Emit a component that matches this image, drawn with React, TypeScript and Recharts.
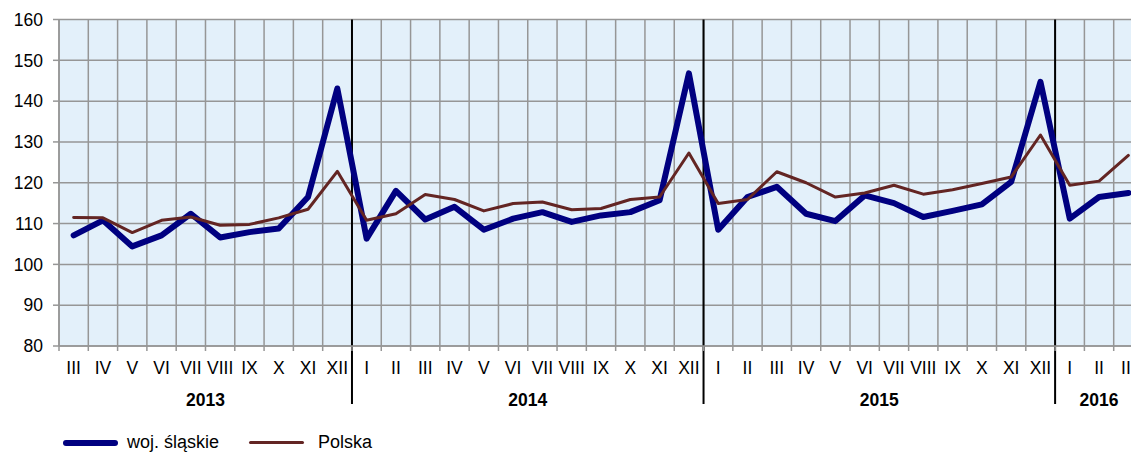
import React from "react";
import { LineChart, Line, XAxis, YAxis, CartesianGrid, ReferenceLine } from "recharts";

const MONTHS = [
  "III", "IV", "V", "VI", "VII", "VIII", "IX", "X", "XI", "XII",
  "I", "II", "III", "IV", "V", "VI", "VII", "VIII", "IX", "X", "XI", "XII",
  "I", "II", "III", "IV", "V", "VI", "VII", "VIII", "IX", "X", "XI", "XII",
  "I", "II", "III",
];

const SLASKIE = [
  107.1, 110.8, 104.4, 107.1, 112.4, 106.6, 107.9, 108.8, 116.5, 143.1,
  106.3, 118.0, 111.0, 114.1, 108.5, 111.2, 112.8, 110.4, 112.0, 112.8, 115.7, 146.8,
  108.5, 116.5, 119.0, 112.4, 110.6, 116.9, 115.0, 111.6, 113.1, 114.7, 120.2, 144.7,
  111.2, 116.5, 117.5,
];

const POLSKA = [
  111.5, 111.4, 107.8, 110.8, 111.6, 109.6, 109.8, 111.4, 113.5, 122.8,
  110.8, 112.4, 117.1, 115.9, 113.1, 114.9, 115.3, 113.4, 113.7, 115.9, 116.5, 127.3,
  114.9, 115.9, 122.7, 120.0, 116.5, 117.5, 119.4, 117.2, 118.3, 119.8, 121.4, 131.7,
  119.4, 120.4, 126.7,
];

// year label sits at the middle of its months, separators at year boundaries
const YEARS = ["2013", "2014", "2015", "2016"];
const YEAR_MID = [5, 16, 28, 35.5];
const YEAR_BREAKS = [10, 22, 34];

const Y_TICKS = [80, 90, 100, 110, 120, 130, 140, 150, 160];
const N = MONTHS.length;
const GRID_TICKS = Array.from({ length: N + 1 }, (_, i) => i);
const MONTH_POS = MONTHS.map((_, i) => i + 0.5);

const SERIES = [
  { key: "slaskie", name: "woj. śląskie", color: "#000080", width: 6 },
  { key: "polska", name: "Polska", color: "#632523", width: 3 },
];

const data = MONTHS.map((m, i) => ({ m, pos: MONTH_POS[i], slaskie: SLASKIE[i], polska: POLSKA[i] }));

const FONT = "'Liberation Sans', Arial, sans-serif";
const GRID = "#969696";

const MonthTick = ({ x, y, payload }: any) => (
  <text x={x} y={y + 27} textAnchor="middle" fontSize={17.5} fontFamily={FONT} fill="#000">
    {MONTHS[MONTH_POS.indexOf(payload.value)]}
  </text>
);

const YearTick = ({ x, y, payload }: any) => (
  <text x={x} y={y + 58} textAnchor="middle" fontSize={17.5} fontWeight="bold" fontFamily={FONT} fill="#000">
    {YEARS[YEAR_MID.indexOf(payload.value)]}
  </text>
);

const Separator = (p: any) => (
  <line
    x1={p.x1} x2={p.x2} y1={Math.min(p.y1, p.y2)} y2={Math.max(p.y1, p.y2) + 58}
    stroke="#000" strokeWidth={2}
  />
);

function ChartLegend() {
  return (
    <div style={{ position: "absolute", left: 63, top: 432, display: "flex", fontFamily: FONT, fontSize: 18 }}>
      {SERIES.map((s, i) => (
        <div key={s.key} style={{ display: "flex", alignItems: "center", marginRight: i === 0 ? 30 : 0 }}>
          <div style={{ width: 55, height: s.width, background: s.color, borderRadius: s.width / 2, marginRight: i === 0 ? 9 : 14 }} />
          <span>{s.name}</span>
        </div>
      ))}
    </div>
  );
}

export default function App() {
  return (
    <div style={{ position: "fixed", left: 0, top: 0, width: 1131, height: 452, overflow: "hidden", background: "#fff" }}>
      <LineChart width={1150} height={452} data={data} margin={{ top: 19.5, right: 7, left: 0, bottom: 103 }}>
        <CartesianGrid fill="#e3f0fa" stroke={GRID} strokeWidth={1.5} horizontal vertical />
        <XAxis
          dataKey="pos" type="number" domain={[0, N]} ticks={GRID_TICKS} allowDataOverflow
          height={1} tick={() => <g />} tickSize={5} tickLine={{ stroke: GRID, strokeWidth: 1.5 }}
          axisLine={{ stroke: GRID, strokeWidth: 1.5 }} interval={0}
        />
        <XAxis
          xAxisId="m" dataKey="pos" type="number" domain={[0, N]} ticks={MONTH_POS} allowDataOverflow
          height={1} tickSize={0} tickMargin={0} tickLine={false} axisLine={false}
          tick={<MonthTick />} interval={0}
        />
        <XAxis
          xAxisId="yr" dataKey="pos" type="number" domain={[0, N]} ticks={YEAR_MID} allowDataOverflow
          height={1} tickSize={0} tickMargin={0} tickLine={false} axisLine={false}
          tick={<YearTick />} interval={0}
        />
        <YAxis
          domain={[80, 160]} ticks={Y_TICKS} width={59} tickSize={6} tickMargin={10}
          tickLine={{ stroke: GRID, strokeWidth: 1.5 }} axisLine={{ stroke: GRID, strokeWidth: 1.5 }}
          tick={{ fontSize: 17.5, fontFamily: FONT, fill: "#000" }} interval={0}
        />
        {YEAR_BREAKS.map((b) => (
          <ReferenceLine key={b} x={b} ifOverflow="visible" shape={<Separator />} />
        ))}
        {SERIES.map((s) => (
          <Line
            key={s.key} dataKey={s.key} name={s.name} stroke={s.color} strokeWidth={s.width}
            dot={false} isAnimationActive={false} strokeLinejoin="round" strokeLinecap="round"
          />
        ))}
      </LineChart>
      <ChartLegend />
    </div>
  );
}
